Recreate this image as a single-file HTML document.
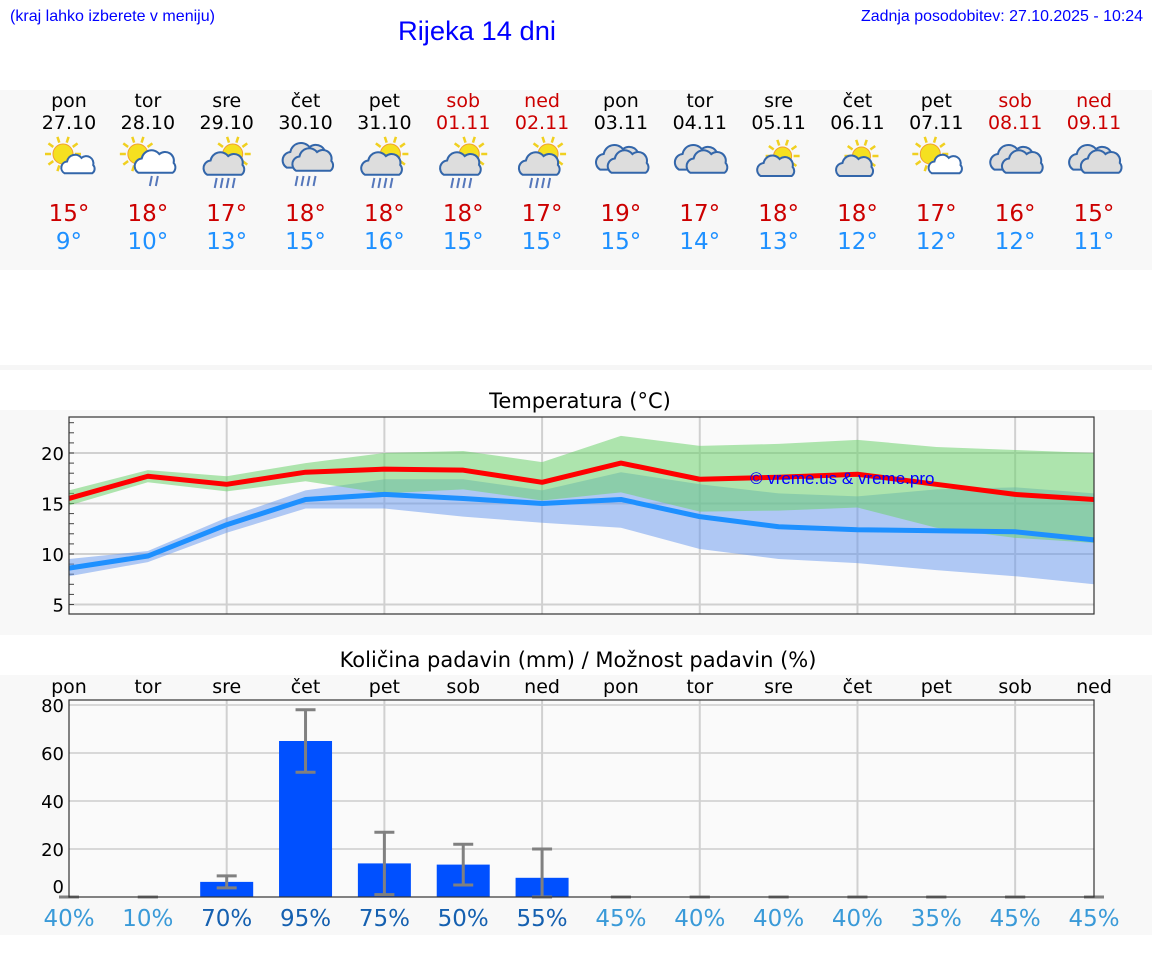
<!DOCTYPE html>
<html><head><meta charset="utf-8"><style>
body{margin:0;background:#fff;}
svg text{font-family:"DejaVu Sans","Liberation Sans",sans-serif;}
</style></head><body>
<svg id="s" width="1152" height="975" xmlns="http://www.w3.org/2000/svg">
<rect x="0" y="90" width="1152" height="180" fill="#f8f8f8"/>
<rect x="0" y="365" width="1152" height="5" fill="#f6f6f6"/>
<rect x="0" y="410" width="1152" height="225" fill="#f8f8f8"/>
<rect x="0" y="675" width="1152" height="260" fill="#f8f8f8"/>
<text x="10" y="21" font-size="16" fill="#0000ff" style="font-family:'Liberation Sans',sans-serif" textLength="205" lengthAdjust="spacingAndGlyphs">(kraj lahko izberete v meniju)</text>
<text x="398" y="40" font-size="27" fill="#0000ff" style="font-family:'Liberation Sans',sans-serif" textLength="158" lengthAdjust="spacingAndGlyphs">Rijeka 14 dni</text>
<text x="861" y="21" font-size="16" fill="#0000ff" style="font-family:'Liberation Sans',sans-serif" textLength="282" lengthAdjust="spacingAndGlyphs">Zadnja posodobitev: 27.10.2025 - 10:24</text>
<text x="580" y="408" font-size="21" text-anchor="middle" fill="#000">Temperatura (°C)</text>
<text x="578" y="667" font-size="21" text-anchor="middle" fill="#000">Količina padavin (mm) / Možnost padavin (%)</text>
<g id="top"></g><g id="temp"></g><g id="prec"></g>
</svg>
<script>
const days=["pon","tor","sre","čet","pet","sob","ned","pon","tor","sre","čet","pet","sob","ned"];
const dates=["27.10","28.10","29.10","30.10","31.10","01.11","02.11","03.11","04.11","05.11","06.11","07.11","08.11","09.11"];
const icons=["sun-cloud","sun-rain","sun-rain-cloud","rain-cloud","sun-rain-cloud","sun-rain-cloud","sun-rain-cloud","cloudy","cloudy","sun-cloud2","sun-cloud2","sun-cloud","cloudy","cloudy"];
const maxT=[15,18,17,18,18,18,17,19,17,18,18,17,16,15];
const minT=[9,10,13,15,16,15,15,15,14,13,12,12,12,11];
const tMax=[15.5,17.7,16.9,18.1,18.4,18.3,17.1,19.0,17.4,17.6,17.9,16.9,15.9,15.4];
const tMin=[8.6,9.8,12.9,15.4,15.9,15.5,15.0,15.4,13.7,12.7,12.4,12.3,12.2,11.4];
const maxHi=[16.3,18.3,17.7,19.0,20.0,20.2,19.1,21.7,20.7,20.9,21.3,20.6,20.3,20.0];
const maxLo=[14.8,17.1,16.2,17.2,16.0,16.4,15.3,16.1,14.2,14.3,14.6,12.6,11.6,11.1];
const minHi=[9.5,10.3,13.6,16.3,17.4,17.4,16.3,18.1,16.9,16.0,15.7,16.4,16.6,16.0];
const minLo=[7.8,9.2,12.1,14.5,14.5,13.7,13.1,12.6,10.5,9.5,9.1,8.4,7.8,7.0];
const tempTicks=[5,10,15,20];
const precip=[0,0,6.3,65,14,13.5,8,0,0,0,0,0,0,0];
const precLo=[0,0,3.8,52,1,5,0,0,0,0,0,0,0,0];
const precHi=[0,0,8.8,78,27,22,20,0,0,0,0,0,0,0];
const precTicks=[0,20,40,60,80];
const chance=[40,10,70,95,75,50,55,45,40,40,40,35,45,45];
(function(){
const NS="http://www.w3.org/2000/svg";
function mk(p,t,a){const e=document.createElementNS(NS,t);for(const k in a)e.setAttribute(k,a[k]);p.appendChild(e);return e;}
const X=i=>69+i*(1094-69)/13;
const topG=document.getElementById('top');
function icon(g,type,cx,cy){
  const sun=(x,y,r)=>{for(let k=0;k<10;k++){const a=k*Math.PI/5;mk(g,'line',{x1:x+Math.cos(a)*(r+2),y1:y+Math.sin(a)*(r+2),x2:x+Math.cos(a)*(r+8),y2:y+Math.sin(a)*(r+8),stroke:'#f0d020','stroke-width':2.5});}mk(g,'circle',{cx:x,cy:y,r:r,fill:'#f5e020',stroke:'#f0a030','stroke-width':1});};
  const cloud=(x,y,s,fill)=>{const p=`M${x-14*s},${y+8*s} a${7*s} ${7*s} 0 0 1 ${3*s},${-13*s} a${9*s} ${9*s} 0 0 1 ${16*s},${-4*s} a${8*s} ${8*s} 0 0 1 ${13*s},${8*s} a${6*s} ${6*s} 0 0 1 ${-1*s},${9*s} z`;mk(g,'path',{d:p,fill:fill,stroke:'#3366aa','stroke-width':2});};
  const rain=(x,y,n)=>{for(let k=0;k<n;k++)mk(g,'line',{x1:x+k*6,y1:y,x2:x+k*6-2,y2:y+10,stroke:'#5577bb','stroke-width':2});};
  if(type==='sun-cloud'){sun(cx-6,cy-8,10);cloud(cx+8,cy+4,0.9,'#fff');}
  else if(type==='sun-cloud2'){sun(cx+4,cy-6,9);cloud(cx-4,cy+6,1,'#ddd');}
  else if(type==='sun-rain'){sun(cx-10,cy-8,10);cloud(cx+6,cy+2,1.1,'#fff');rain(cx+4,cy+14,2);}
  else if(type==='sun-rain-cloud'){sun(cx+6,cy-8,10);cloud(cx-4,cy+4,1.1,'#ddd');rain(cx-10,cy+16,4);}
  else if(type==='rain-cloud'){cloud(cx-2,cy-4,1.2,'#ddd');cloud(cx+6,cy,1.1,'#ddd');rain(cx-8,cy+14,4);}
  else {cloud(cx-4,cy-2,1.2,'#ddd');cloud(cx+6,cy+2,1.1,'#ddd');}
}
days.forEach((d,i)=>{
  const x=X(i), we=(i%7>=5);
  let e=mk(topG,'text',{x:x,y:107,'font-size':19,'text-anchor':'middle',fill:we?'#cc0000':'#000'});e.textContent=d;
  
  
  e=mk(topG,'text',{x:x,y:129,'font-size':19,'text-anchor':'middle',fill:we?'#cc0000':'#000'});e.textContent=dates[i];
  
  
  const g=mk(topG,'g',{});
  
  
  icon(g,icons[i],x,162);
  e=mk(topG,'text',{x:x,y:221,'font-size':23,'text-anchor':'middle',fill:'#cc0000'});e.textContent=maxT[i]+'°';
  
  
  e=mk(topG,'text',{x:x,y:249,'font-size':23,'text-anchor':'middle',fill:'#1e90ff'});e.textContent=minT[i]+'°';
  
  
});
const tg=document.getElementById('temp');
const L=69,R=1094,TT=417,TB=614;
const TY=t=>453+(20-t)*10.1;
let e=mk(tg,'rect',{x:L,y:TT,width:R-L,height:TB-TT,fill:'#fafafa'});


tempTicks.forEach(t=>{mk(tg,'line',{x1:L,x2:R,y1:TY(t),y2:TY(t),stroke:'#d0d0d0','stroke-width':2});
  const l=mk(tg,'text',{x:L-5,y:TY(t)+7,'font-size':18,'text-anchor':'end',fill:'#000'});l.textContent=t;
  
  });
for(let t=5;t<=23;t++)mk(tg,'line',{x1:L,x2:L+5,y1:TY(t),y2:TY(t),stroke:'#444','stroke-width':1});
for(let i=2;i<13;i+=2)mk(tg,'line',{x1:X(i),x2:X(i),y1:TT,y2:TB,stroke:'#d0d0d0','stroke-width':2});
function band(hi,lo,fill,name){let d='M'+hi.map((v,i)=>X(i)+','+TY(v)).join('L')+'L'+lo.map((v,i)=>X(i)+','+TY(v)).reverse().join('L')+'Z';
  const p=mk(tg,'path',{d:d,fill:fill});}
band(minHi,minLo,'rgba(100,149,237,0.5)','min-temp-band');
band(maxHi,maxLo,'rgba(110,210,110,0.55)','max-temp-band');
function line(v,c,name){const p=mk(tg,'polyline',{points:v.map((t,i)=>X(i)+','+TY(t)).join(' '),fill:'none',stroke:c,'stroke-width':5,'stroke-linejoin':'round'});
  }
line(tMax,'#ff0000','max-temp-line');
line(tMin,'#1e90ff','min-temp-line');
e=mk(tg,'text',{x:750,y:484,'font-size':17,fill:'#0000ff',style:"font-family:'Liberation Sans',sans-serif"});e.textContent='© vreme.us & vreme.pro';


mk(tg,'rect',{x:L,y:TT,width:R-L,height:TB-TT,fill:'none',stroke:'#333','stroke-width':1.2});
const pg=document.getElementById('prec');
const PT=700,PB=897;
const PY=v=>897-v*2.4;
e=mk(pg,'rect',{x:L,y:PT,width:R-L,height:PB-PT,fill:'#fafafa'});


precTicks.forEach(t=>{if(t>0)mk(pg,'line',{x1:L,x2:R,y1:PY(t),y2:PY(t),stroke:'#d8d8d8','stroke-width':2});
  const l=mk(pg,'text',{x:L-5,y:(t==0?886:PY(t))+7,'font-size':18,'text-anchor':'end',fill:'#000'});l.textContent=t;
  
  });
for(let i=2;i<13;i+=2)mk(pg,'line',{x1:X(i),x2:X(i),y1:PT,y2:PB,stroke:'#d0d0d0','stroke-width':2});
days.forEach((d,i)=>{const x=X(i);
  let l=mk(pg,'text',{x:x,y:693,'font-size':19,'text-anchor':'middle',fill:'#000'});l.textContent=d;
  
  
  if(precip[i]>0){const b=mk(pg,'rect',{x:x-26.5,y:PY(precip[i]),width:53,height:PB-PY(precip[i]),fill:'#0050ff'});
    
    }
  const eb=mk(pg,'g',{stroke:'#808080','stroke-width':3});
  
  
  mk(eb,'line',{x1:x,x2:x,y1:PY(precLo[i]),y2:PY(precHi[i])});
  mk(eb,'line',{x1:x-10,x2:x+10,y1:PY(precLo[i]),y2:PY(precLo[i])});
  mk(eb,'line',{x1:x-10,x2:x+10,y1:PY(precHi[i]),y2:PY(precHi[i])});
  l=mk(pg,'text',{x:x,y:926,'font-size':23,'text-anchor':'middle',fill:chance[i]>=50?'#1560b0':'#3a9ad8'});l.textContent=chance[i]+'%';
  
  
});
mk(pg,'rect',{x:L,y:PT,width:R-L,height:PB-PT,fill:'none',stroke:'#333','stroke-width':1.2});
})();
</script>
</body></html>
